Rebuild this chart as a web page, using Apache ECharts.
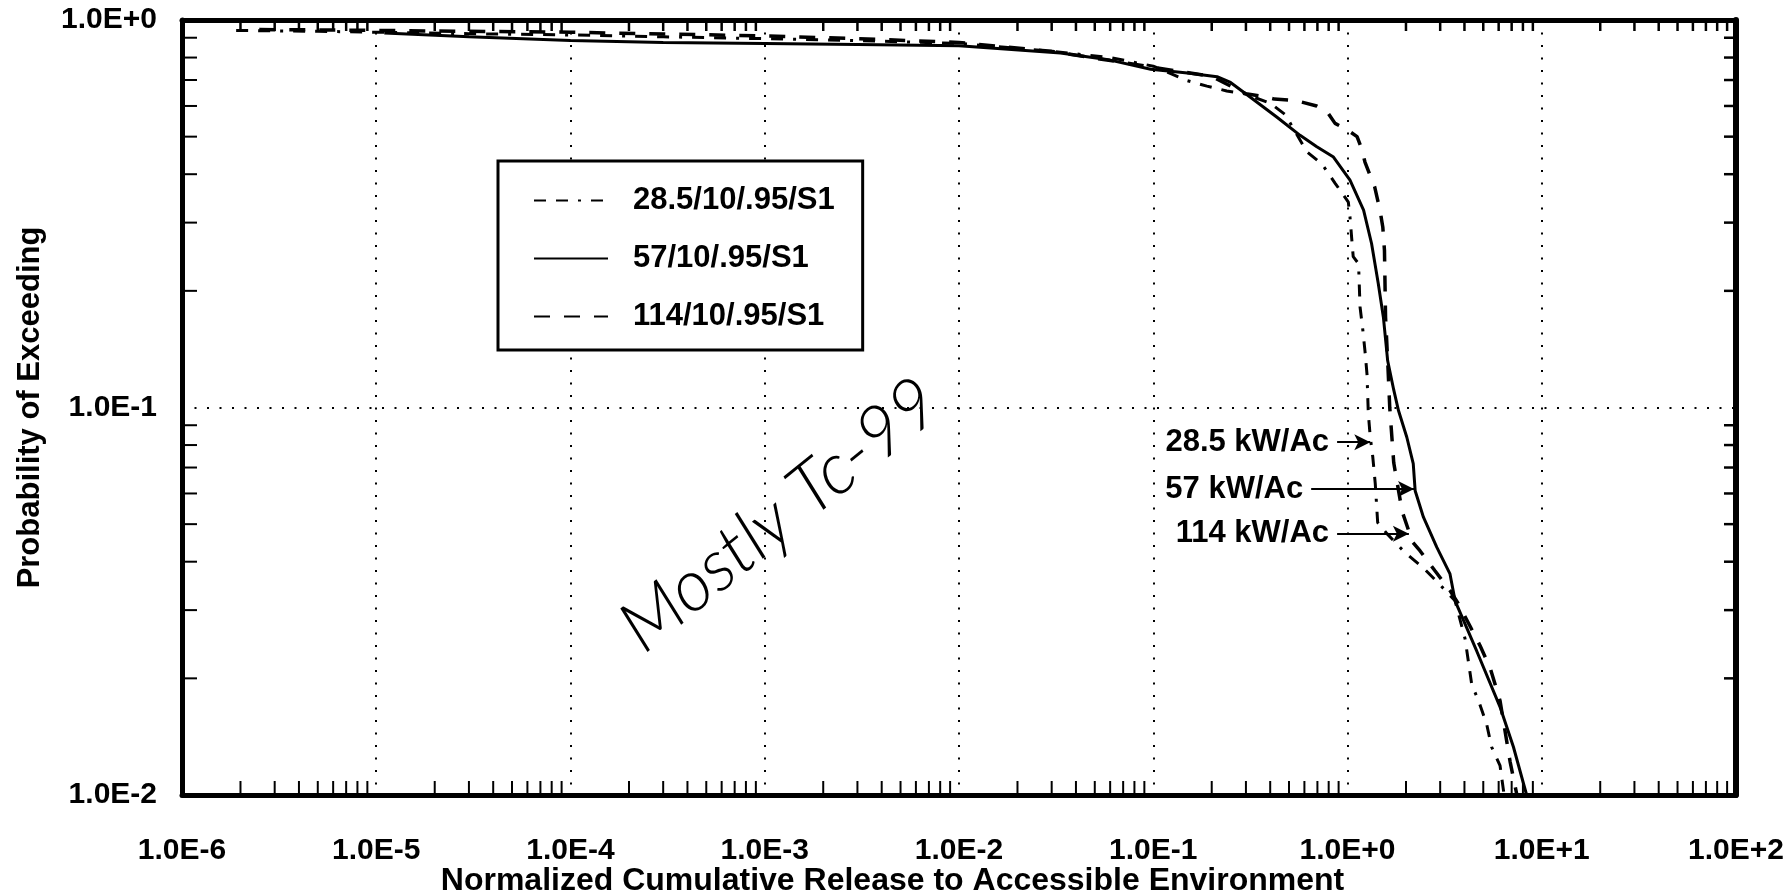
<!DOCTYPE html>
<html>
<head>
<meta charset="utf-8">
<script src="https://cdn.jsdelivr.net/npm/echarts@6/dist/echarts.min.js"></script>
<style>
html,body{margin:0;padding:0;background:#fff;}
#chart{width:1788px;height:895px;}
</style>
</head>
<body>
<div id="chart"></div>
<script>
// ---- data ----
const seriesNames = ['28.5/10/.95/S1', '57/10/.95/S1', '114/10/.95/S1'];

const x28 = [1.9e-6, 5e-6, 1e-5, 3e-5, 1e-4, 3e-4, 1e-3, 3e-3, 1e-2, 3e-2, 0.06, 0.1, 0.15, 0.189, 0.239, 0.292, 0.40, 0.478, 0.618, 0.738, 0.864, 1.01, 1.03, 1.05, 1.07, 1.14, 1.16, 1.2, 1.23, 1.26, 1.27, 1.28, 1.31, 1.35, 1.39, 1.43, 1.6, 1.98, 2.45, 2.99, 3.58, 4.03, 4.36, 4.77, 5.21, 5.52, 6.1, 6.4];
const p28 = [0.94, 0.935, 0.93, 0.922, 0.915, 0.905, 0.895, 0.885, 0.87, 0.83, 0.80, 0.76, 0.697, 0.675, 0.656, 0.646, 0.61, 0.57, 0.457, 0.425, 0.379, 0.339, 0.31, 0.275, 0.245, 0.235, 0.182, 0.158, 0.14, 0.122, 0.108, 0.0964, 0.0838, 0.0744, 0.0635, 0.0505, 0.0472, 0.0422, 0.0386, 0.0349, 0.0317, 0.0253, 0.0193, 0.0173, 0.0152, 0.0133, 0.0119, 0.01];

const x57 = [1.1e-5, 3e-5, 1e-4, 3e-4, 1e-3, 3e-3, 1e-2, 0.0333, 0.06, 0.097, 0.15, 0.213, 0.25, 0.315, 0.432, 0.57, 0.695, 0.847, 1.03, 1.21, 1.33, 1.44, 1.53, 1.61, 1.73, 1.83, 2.02, 2.18, 2.23, 2.46, 2.88, 3.37, 3.58, 4.63, 6.12, 7.15, 8.36];
const p57 = [0.925, 0.905, 0.885, 0.875, 0.87, 0.865, 0.858, 0.822, 0.788, 0.746, 0.73, 0.714, 0.69, 0.633, 0.562, 0.504, 0.471, 0.443, 0.386, 0.323, 0.265, 0.209, 0.171, 0.132, 0.111, 0.0982, 0.0838, 0.0716, 0.061, 0.0521, 0.0436, 0.0372, 0.0317, 0.0235, 0.0168, 0.0133, 0.01];

const x114 = [2.5e-6, 1e-5, 3e-5, 1e-4, 3e-4, 1e-3, 3e-3, 1e-2, 0.03, 0.1, 0.2, 0.3, 0.37, 0.42, 0.507, 0.582, 0.694, 0.78, 0.863, 0.99, 1.12, 1.18, 1.23, 1.30, 1.38, 1.43, 1.47, 1.52, 1.55, 1.57, 1.61, 1.65, 1.73, 1.91, 2.16, 2.36, 2.82, 3.37, 3.7, 4.27, 4.81, 5.42, 6.1, 6.87, 7.45];
const p114 = [0.945, 0.94, 0.935, 0.93, 0.92, 0.91, 0.895, 0.875, 0.83, 0.755, 0.715, 0.645, 0.635, 0.625, 0.621, 0.614, 0.60, 0.583, 0.541, 0.522, 0.50, 0.467, 0.43, 0.40, 0.371, 0.343, 0.323, 0.292, 0.254, 0.171, 0.132, 0.10, 0.072, 0.054, 0.045, 0.0427, 0.0379, 0.0337, 0.0313, 0.0273, 0.0243, 0.0213, 0.0175, 0.0122, 0.01];

const xTickLabels = ['1.0E-6', '1.0E-5', '1.0E-4', '1.0E-3', '1.0E-2', '1.0E-1', '1.0E+0', '1.0E+1', '1.0E+2'];
const yTickLabels = ['1.0E-2', '1.0E-1', '1.0E+0'];
const minorMultipliers = [2, 3, 4, 5, 6, 7, 8, 9];
const xDecades = [1e-6, 1e-5, 1e-4, 1e-3, 1e-2, 1e-1, 1, 10];
const yDecades = [1e-2, 1e-1];

const xTitle = 'Normalized Cumulative Release to Accessible Environment';
const yTitle = 'Probability of Exceeding';

// annotation labels with arrow start / end (data units) at a probability level
const annoLabels = ['28.5 kW/Ac', '57 kW/Ac', '114 kW/Ac'];
const annoStartX = [0.884, 0.65, 0.884];
const annoEndX = [1.31, 2.20, 2.07];
const annoP = [0.0814, 0.0616, 0.0472];

const handNote = 'Mostly Tc-99';

// ---- build ----
const zip = (xs, ys) => xs.map((x, i) => [x, ys[i]]);
const xMinor = [];
xDecades.forEach(d => minorMultipliers.forEach(m => xMinor.push([m * d, 1])));
const yMinor = [];
yDecades.forEach(d => minorMultipliers.forEach(m => yMinor.push([1e-6, m * d])));

const FONT = '"Liberation Sans", Arial, Helvetica, sans-serif';
const expOf = v => Math.round(Math.log10(v));

const chart = echarts.init(document.getElementById('chart'), null, {renderer: 'canvas'});

const axisLineStyle = {color: '#000', width: 5};
const gridLine = {show: true, lineStyle: {color: '#000', width: 2, type: [2, 10.5]}};

const option = {
  backgroundColor: '#fff',
  animation: false,
  grid: {left: 182, right: 52, top: 20, bottom: 100, containLabel: false, outerBoundsMode: 'none'},
  legend: {
    orient: 'vertical',
    left: 498, top: 161,
    data: seriesNames,
    padding: [24, 28, 18, 35],
    itemGap: 27,
    itemWidth: 74, itemHeight: 14,
    itemStyle: {opacity: 0},
    borderColor: '#000', borderWidth: 3, backgroundColor: '#fff',
    textStyle: {fontFamily: FONT, fontWeight: 'bold', fontSize: 31, color: '#000', padding: [0, 0, 0, 20], lineHeight: 31}
  },
  xAxis: [{
    type: 'log', logBase: 10, min: 1e-6, max: 100, splitNumber: 8,
    position: 'bottom',
    axisLine: {show: true, lineStyle: axisLineStyle},
    axisTick: {show: false},
    splitLine: gridLine,
    axisLabel: {
      show: true, margin: 23, verticalAlign: 'top', align: 'center', color: '#000',
      padding: [18, 0, 0, 0],
      fontFamily: FONT, fontWeight: 'bold', fontSize: 30,
      showMinLabel: true, showMaxLabel: true, hideOverlap: false,
      formatter: v => xTickLabels[expOf(v) + 6]
    },
    name: xTitle, nameLocation: 'middle', nameGap: 70, nameMoveOverlap: false,
    nameTextStyle: {color: '#000', fontFamily: FONT, fontWeight: 'bold', fontSize: 32, padding: [0, 133, 0, 0]}
  }, {
    type: 'log', logBase: 10, min: 1e-6, max: 100, splitNumber: 8,
    position: 'top',
    axisLine: {show: true, lineStyle: axisLineStyle},
    axisTick: {show: false}, axisLabel: {show: false}, splitLine: {show: false}
  }],
  yAxis: [{
    type: 'log', logBase: 10, min: 0.01, max: 1, splitNumber: 2,
    position: 'left',
    axisLine: {show: true, lineStyle: axisLineStyle},
    axisTick: {show: false},
    splitLine: gridLine,
    axisLabel: {
      show: true, margin: 25, color: '#000', fontFamily: FONT, fontWeight: 'bold', fontSize: 30,
      showMinLabel: true, showMaxLabel: true, hideOverlap: false,
      formatter: v => yTickLabels[expOf(v) + 2]
    },
    name: yTitle, nameLocation: 'middle', nameGap: 136, nameRotate: 90, nameMoveOverlap: false,
    nameTextStyle: {color: '#000', fontFamily: FONT, fontWeight: 'bold', fontSize: 31}
  }, {
    type: 'log', logBase: 10, min: 0.01, max: 1, splitNumber: 2,
    position: 'right',
    axisLine: {show: true, lineStyle: {color: '#000', width: 6}},
    axisTick: {show: false}, axisLabel: {show: false}, splitLine: {show: false}
  }],
  series: [
    {
      name: seriesNames[0], type: 'line', data: zip(x28, p28), symbol: 'none', smooth: false,
      lineStyle: {color: '#000', width: 3, type: [12, 10, 12, 10, 3, 10]}, itemStyle: {color: '#000'}, z: 3
    },
    {
      name: seriesNames[1], type: 'line', data: zip(x57, p57), symbol: 'none', smooth: false,
      lineStyle: {color: '#000', width: 3, type: 'solid'}, itemStyle: {color: '#000'}, z: 4,
      markLine: {
        silent: true, animation: false,
        symbol: ['none', 'arrow'], symbolSize: [12, 16],
        lineStyle: {color: '#000', width: 2, type: 'solid'},
        label: {
          show: true, position: 'start', distance: 8, color: '#000',
          fontFamily: FONT, fontWeight: 'bold', fontSize: 31,
          formatter: p => p.name
        },
        data: annoLabels.map((t, i) => [
          {name: t, coord: [annoStartX[i], annoP[i]]},
          {coord: [annoEndX[i], annoP[i]]}
        ])
      }
    },
    {
      name: seriesNames[2], type: 'line', data: zip(x114, p114), symbol: 'none', smooth: false,
      lineStyle: {color: '#000', width: 3.5, type: [16, 14]}, itemStyle: {color: '#000'}, z: 3
    },
    {
      type: 'custom', name: 'xminor', xAxisIndex: 0, yAxisIndex: 0, silent: true, clip: false, z: 6,
      data: xMinor, encode: {x: 0, y: 1},
      renderItem: (params, api) => {
        const cs = params.coordSys;
        const px = api.coord([api.value(0), api.value(1)])[0];
        const yb = cs.y + cs.height, yt = cs.y;
        return {type: 'group', children: [
          {type: 'line', shape: {x1: px, y1: yb, x2: px, y2: yb - 14}, style: {stroke: '#000', lineWidth: 2}},
          {type: 'line', shape: {x1: px, y1: yt, x2: px, y2: yt + 11}, style: {stroke: '#000', lineWidth: 2.5}}
        ]};
      }
    },
    {
      type: 'custom', name: 'yminor', xAxisIndex: 0, yAxisIndex: 0, silent: true, clip: false, z: 6,
      data: yMinor, encode: {x: 0, y: 1},
      renderItem: (params, api) => {
        const cs = params.coordSys;
        const py = api.coord([api.value(0), api.value(1)])[1];
        const xl = cs.x, xr = cs.x + cs.width;
        return {type: 'group', children: [
          {type: 'line', shape: {x1: xl, y1: py, x2: xl + 15, y2: py}, style: {stroke: '#000', lineWidth: 2}},
          {type: 'line', shape: {x1: xr, y1: py, x2: xr - 12, y2: py}, style: {stroke: '#000', lineWidth: 2.5}}
        ]};
      }
    }
  ],
  graphic: [{
    type: 'text', x: 780, y: 515, rotation: 0.68, z: 10,
    style: {
      text: handNote, fill: '#000', fontSize: 72, fontStyle: 'italic', fontWeight: 300,
      fontFamily: 'Lato, "DejaVu Sans", sans-serif', textAlign: 'center', textVerticalAlign: 'middle'
    }
  }]
};
chart.setOption(option);
</script>
</body>
</html>
